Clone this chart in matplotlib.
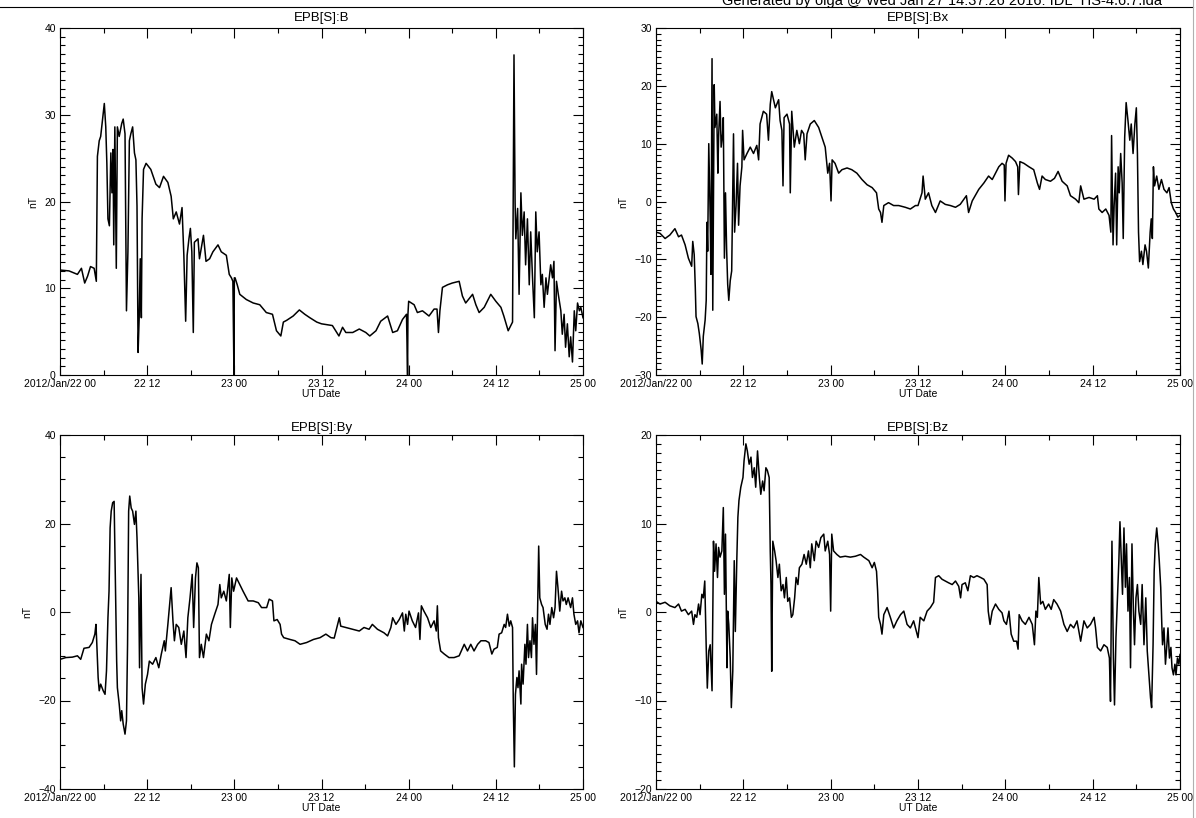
import matplotlib
matplotlib.use("Agg")
from matplotlib import pyplot as plt
from matplotlib.ticker import MultipleLocator, FixedFormatter, FixedLocator
from matplotlib.lines import Line2D

plt.rcParams['font.family'] = ['Liberation Sans', 'DejaVu Sans']

# time axis in hours from 2012/Jan/22 00 UT
tick_hours = [0, 12, 24, 36, 48, 60, 72]
tick_labels = ["2012/Jan/22 00", "22 12", "23 00", "23 12", "24 00", "24 12", "25 00"]

b_t = [0.0, 1.24, 2.4, 2.95, 3.4, 3.8, 4.2, 4.7, 5.0, 5.15, 5.4, 5.6, 5.85, 6.1, 6.3, 6.45, 6.6, 6.8,
       7.0, 7.15, 7.3, 7.4, 7.55, 7.75, 7.9, 8.15, 8.5, 8.7, 8.95, 9.15, 9.35, 9.55, 9.75, 10.0, 10.25,
       10.45, 10.6, 10.75, 10.9, 11.05, 11.2, 11.3, 11.5, 11.85, 12.5, 13.2, 13.7, 14.25, 14.85, 15.3,
       15.6, 16.0, 16.45, 16.8, 17.05, 17.3, 17.5, 17.75, 17.95, 18.15, 18.35, 18.5, 19.0, 19.2, 19.75,
       20.1, 20.6, 21.05, 21.75, 22.2, 22.9, 23.3, 23.6, 23.8, 23.95, 24.0, 24.1, 24.4, 24.75, 25.65,
       26.6, 27.5, 28.4, 29.25, 29.8, 30.4, 30.75, 31.2, 32.1, 32.95, 33.7, 34.4, 35.35, 36.0, 37.5,
       38.4, 38.9, 39.35, 40.3, 41.2, 42.1, 42.65, 43.5, 44.15, 45.1, 45.8, 46.45, 47.15, 47.7, 47.85,
       47.9, 48.0, 48.75, 49.2, 49.9, 50.8, 51.5, 51.9, 52.1, 52.3, 52.65, 53.35, 54.0, 54.95, 55.4,
       55.85, 56.8, 57.25, 57.7, 58.4, 59.3, 60.0, 60.7, 61.1, 61.7, 62.3, 62.5, 62.65, 62.75, 63.0,
       63.2, 63.45, 63.65, 63.9, 64.1, 64.35, 64.6, 64.8, 65.05, 65.3, 65.5, 65.7, 65.95, 66.2, 66.4,
       66.65, 66.9, 67.1, 67.55, 67.8, 68.0, 68.15, 68.35, 68.6, 68.95, 69.15, 69.4, 69.6, 69.85, 70.1,
       70.3, 70.55, 70.8, 71.0, 71.25, 71.5, 71.7, 72.0]
b_v = [12.1, 12.0, 11.6, 12.3, 10.6, 11.4, 12.5, 12.3, 10.8, 25.2, 27.0, 27.5, 29.4, 31.3, 28.6, 24.4,
       18.0, 17.2, 25.6, 21.0, 26.0, 15.0, 28.6, 12.3, 28.6, 27.5, 29.0, 29.5, 27.8, 7.4, 14.2, 27.0,
       27.8, 28.6, 25.6, 24.8, 19.5, 2.6, 6.6, 13.4, 6.6, 18.0, 23.7, 24.4, 23.7, 22.0, 21.6, 22.9, 22.2,
       20.6, 18.0, 18.8, 17.4, 19.3, 13.8, 6.2, 13.8, 15.7, 16.9, 14.2, 4.9, 15.3, 15.7, 13.4, 16.1, 13.1,
       13.4, 14.2, 15.0, 14.2, 13.8, 11.6, 11.2, 10.8, 0.0, 11.2, 11.2, 10.4, 9.3, 8.7, 8.3, 8.1, 7.2,
       7.0, 5.1, 4.5, 6.1, 6.3, 6.8, 7.5, 7.0, 6.6, 6.1, 5.9, 5.7, 4.5, 5.5, 4.9, 4.9, 5.3, 4.9, 4.5, 5.1,
       6.2, 6.8, 4.9, 5.1, 6.4, 7.0, 0.0, 7.0, 8.5, 8.1, 7.2, 7.4, 6.8, 7.6, 7.6, 4.9, 7.4, 10.1, 10.4,
       10.6, 10.8, 9.1, 8.3, 9.3, 8.1, 7.2, 7.8, 9.3, 8.5, 7.8, 6.8, 5.1, 6.1, 36.9, 19.9, 15.7, 19.2,
       9.3, 21.0, 16.1, 18.8, 12.7, 18.0, 10.4, 16.5, 11.2, 6.6, 18.8, 14.2, 16.5, 10.4, 11.6, 7.8, 11.2,
       9.3, 12.7, 11.2, 13.1, 2.8, 10.8, 9.3, 7.4, 4.7, 7.0, 3.2, 5.9, 2.1, 4.4, 1.5, 7.4, 5.1, 8.3, 7.4,
       7.8, 6.6]

bx_t = [0.0, 0.55, 1.25, 1.9, 2.6, 3.1, 3.5, 4.0, 4.45, 4.9, 5.05, 5.25, 5.4, 5.5, 5.75, 5.95, 6.2,
        6.35, 6.5, 6.75, 6.9, 7.0, 7.1, 7.25, 7.45, 7.55, 7.7, 7.8, 8.0, 8.1, 8.35, 8.5, 8.6, 8.8, 8.95,
        9.15, 9.25, 9.4, 9.55, 9.7, 9.85, 10.0, 10.2, 10.4, 10.65, 10.8, 11.0, 11.2, 11.35, 11.55, 11.8,
        11.9, 12.1, 12.5, 12.95, 13.4, 13.85, 14.1, 14.3, 14.75, 15.2, 15.45, 15.7, 15.9, 16.4, 16.85,
        17.05, 17.3, 17.45, 17.6, 18.0, 18.35, 18.45, 18.65, 19.0, 19.35, 19.7, 20.0, 20.3, 20.5, 20.75,
        21.2, 21.75, 22.35, 22.8, 23.25, 23.6, 23.85, 24.05, 24.2, 24.6, 25.1, 25.55, 26.25, 26.9, 27.6,
        28.3, 29.0, 29.7, 30.3, 30.6, 30.85, 31.05, 31.3, 31.95, 32.65, 33.35, 34.25, 34.95, 35.65,
        36.0, 36.55, 36.7, 37.0, 37.45, 37.9, 38.4, 39.05, 39.75, 40.45, 41.15, 41.8, 42.65, 42.95,
        43.45, 44.35, 45.05, 45.7, 46.2, 46.65, 47.1, 47.55, 47.85, 47.95, 48.1, 48.45, 48.95, 49.4,
        49.7, 49.8, 50.0, 50.55, 51.25, 51.9, 52.4, 52.7, 53.05, 53.5, 54.2, 54.75, 55.25, 55.8, 56.5,
        56.95, 57.65, 58.1, 58.35, 58.8, 59.5, 60.2, 60.65, 60.85, 61.3, 61.8, 62.25, 62.5, 62.6, 62.8,
        62.95, 63.15, 63.3, 63.5, 63.65, 63.85, 64.05, 64.2, 64.4, 64.6, 64.85, 65.1, 65.3, 65.55, 65.8,
        66.0, 66.15, 66.3, 66.45, 66.7, 66.9, 67.2, 67.4, 67.65, 67.9, 68.05, 68.2, 68.35, 68.5, 68.8,
        69.1, 69.45, 69.8, 70.2, 70.5, 70.8, 71.1, 71.4, 71.7, 72.0]
bx_v = [-5.3, -5.5, -6.4, -5.8, -4.7, -6.1, -5.8, -7.5, -9.8, -11.2, -6.9, -9.2, -14.9, -19.9, -21.1,
        -22.8, -25.6, -28.1, -23.3, -20.5, -17.1, -3.6, -8.6, 10.0, -3.0, -12.6, 24.7, -18.8, 20.2,
        12.8, 15.1, 4.9, 11.1, 17.3, 9.4, 11.7, 14.5, -9.8, 1.5, -8.1, -14.3, -17.1, -13.7, -12.0, 11.7,
        -5.3, -0.7, 6.6, -4.1, 2.7, 6.0, 12.3, 7.2, 8.3, 9.4, 8.3, 9.7, 7.2, 13.4, 15.6, 15.1, 10.6,
        16.8, 19.0, 16.2, 17.6, 14.0, 12.3, 2.7, 14.5, 15.1, 13.4, 1.5, 15.6, 9.4, 12.3, 10.0, 12.3,
        11.7, 7.2, 11.7, 13.4, 14.0, 12.8, 11.1, 9.4, 4.9, 6.6, 0.1, 7.2, 6.6, 4.9, 5.5, 5.8, 5.5, 4.9,
        3.8, 2.9, 2.4, 1.5, -1.3, -1.9, -3.6, -0.7, -0.2, -0.7, -0.7, -1.0, -1.3, -0.7, -0.7, 1.5, 4.4,
        0.4, 1.5, -0.7, -1.9, 0.1, -0.5, -0.7, -1.0, -0.5, 1.0, -1.9, 0.1, 2.1, 3.2, 4.4, 3.8, 4.9, 6.0,
        6.6, 6.3, 0.1, 6.6, 8.0, 7.5, 6.9, 6.0, 1.2, 6.9, 6.6, 6.0, 5.5, 3.2, 2.1, 4.4, 3.8, 3.5, 4.0,
        5.2, 3.5, 2.7, 1.0, 0.4, -0.2, 2.7, 0.4, 0.7, 0.4, 1.0, -1.3, -1.9, -1.3, -2.4, -5.3, 11.4, -7.5,
        -0.7, 4.9, -7.5, 6.0, 1.5, 8.3, 3.2, -6.4, 11.1, 17.1, 14.0, 10.6, 13.4, 8.3, 13.4, 16.2, 8.3,
        -5.3, -10.4, -8.6, -10.9, -7.5, -8.6, -11.5, -5.3, -3.0, -6.4, 6.0, 2.7, 4.4, 2.1, 3.8, 2.1, 1.5,
        2.4, -0.2, -1.3, -1.9, -2.7, -2.4]

by_t = [0.0, 0.8, 1.7, 2.4, 2.85, 3.3, 4.0, 4.45, 4.8, 4.95, 5.05, 5.25, 5.4, 5.6, 5.95, 6.2, 6.4, 6.6,
        6.75, 6.9, 7.05, 7.25, 7.45, 7.6, 7.8, 7.9, 8.15, 8.35, 8.5, 8.7, 8.95, 9.15, 9.3, 9.45, 9.6,
        9.8, 10.0, 10.25, 10.45, 10.6, 10.85, 10.95, 11.15, 11.3, 11.5, 11.75, 12.05, 12.3, 12.75, 13.2,
        13.6, 13.95, 14.35, 14.5, 14.85, 15.05, 15.3, 15.55, 15.75, 16.0, 16.35, 16.7, 17.05, 17.35,
        17.6, 17.9, 18.2, 18.4, 18.65, 18.85, 19.05, 19.2, 19.45, 19.75, 20.15, 20.5, 20.85, 21.3,
        21.75, 22.0, 22.2, 22.55, 22.9, 23.3, 23.45, 23.65, 23.9, 24.3, 24.75, 25.2, 25.9, 26.6, 27.3,
        27.75, 28.45, 28.8, 29.25, 29.45, 29.9, 30.3, 30.5, 30.8, 31.65, 32.35, 33.05, 33.95, 34.9,
        35.8, 36.6, 37.3, 37.75, 38.05, 38.45, 38.65, 39.35, 40.25, 41.2, 41.85, 42.55, 43.0, 43.7,
        44.6, 45.1, 45.55, 45.8, 46.25, 46.7, 47.15, 47.4, 47.6, 47.85, 48.05, 48.5, 48.95, 49.35,
        49.55, 49.75, 50.1, 50.6, 51.05, 51.5, 51.8, 51.95, 52.1, 52.4, 52.9, 53.55, 54.25, 54.95,
        55.65, 56.1, 56.55, 57.0, 57.5, 57.95, 58.6, 59.05, 59.45, 59.75, 60.2, 60.45, 60.8, 61.15,
        61.35, 61.6, 61.85, 62.05, 62.3, 62.4, 62.55, 62.7, 62.9, 63.05, 63.2, 63.45, 63.55, 63.75, 64.0,
        64.15, 64.35, 64.5, 64.7, 64.9, 65.05, 65.25, 65.45, 65.6, 65.75, 65.9, 66.05, 66.3, 66.5, 66.8,
        67.05, 67.25, 67.45, 67.7, 67.95, 68.15, 68.35, 68.55, 68.8, 69.05, 69.25, 69.5, 69.7, 69.95,
        70.3, 70.55, 70.75, 71.0, 71.25, 71.45, 71.7, 72.0]
by_v = [-10.7, -10.3, -10.2, -9.9, -10.7, -8.2, -8.0, -6.9, -5.0, -2.8, -6.5, -14.8, -17.8, -16.3,
        -17.8, -18.6, -13.3, -1.3, 4.7, 19.0, 22.8, 24.7, 25.0, 10.0, -11.1, -17.1, -20.8, -24.6, -22.3,
        -25.3, -27.6, -24.6, -7.3, 22.8, 26.2, 23.5, 22.8, 19.8, 22.8, 16.8, 3.2, -12.6, 8.5, -17.1,
        -20.8, -16.3, -14.1, -11.1, -11.8, -10.3, -12.6, -9.5, -6.5, -8.8, -2.8, 1.0, 5.5, -2.0, -6.5,
        -2.8, -3.5, -7.3, -4.3, -10.3, -1.3, 3.2, 8.5, -3.5, 7.7, 11.1, 10.0, -10.3, -7.3, -10.3, -5.0,
        -6.5, -2.8, -0.5, 1.7, 6.2, 3.2, 4.7, 2.5, 8.5, -3.5, 7.7, 4.7, 7.7, 6.2, 4.7, 2.5, 2.5, 2.1,
        1.0, 1.0, 2.9, 2.5, -2.0, -1.7, -2.8, -5.0, -5.8, -6.2, -6.5, -7.3, -6.9, -6.2, -5.8, -5.0, -5.8,
        -5.9, -3.9, -1.3, -3.2, -3.5, -3.9, -4.3, -3.5, -3.9, -2.8, -3.9, -4.7, -5.4, -3.5, -1.3, -2.8,
        -1.7, -0.2, -4.3, -0.5, -2.8, 0.2, -2.0, -3.5, -0.2, -6.2, 1.4, 0.2, -1.3, -3.5, -2.0, -4.3, 1.4,
        -5.8, -8.8, -9.5, -10.3, -10.3, -9.9, -7.3, -8.8, -7.3, -8.8, -7.3, -6.5, -6.5, -6.9, -9.5, -8.4,
        -8.0, -5.0, -4.7, -2.8, -3.5, -0.5, -3.2, -2.0, -3.5, -20.1, -35.0, -18.6, -14.8, -17.1, -13.3,
        -20.8, -11.8, -16.3, -7.3, -11.8, -2.8, -10.3, -6.5, -10.3, -1.3, -7.3, -2.8, -14.1, 1.0, 14.9,
        3.2, 1.7, 1.0, -2.8, -3.9, -0.5, -2.8, 1.0, -1.3, 1.0, 9.2, 5.5, 0.2, 4.7, 2.5, 3.2, 1.7, 3.2, 1.0,
        3.2, -0.5, -2.8, -2.0, -4.7, -2.0, -3.5]

bz_t = [0.0, 0.55, 1.25, 1.9, 2.6, 3.1, 3.5, 4.0, 4.45, 4.9, 5.15, 5.35, 5.6, 5.85, 6.05, 6.3, 6.5,
        6.7, 6.9, 7.05, 7.25, 7.45, 7.55, 7.7, 7.9, 8.05, 8.25, 8.45, 8.6, 8.8, 9.05, 9.25, 9.4, 9.55,
        9.75, 9.85, 10.0, 10.2, 10.35, 10.55, 10.75, 10.9, 11.1, 11.25, 11.4, 11.65, 11.95, 12.1, 12.35,
        12.55, 12.8, 13.05, 13.25, 13.5, 13.7, 13.95, 14.2, 14.4, 14.65, 14.85, 15.1, 15.3, 15.55, 15.7,
        15.8, 15.9, 16.05, 16.3, 16.5, 16.75, 16.95, 17.2, 17.45, 17.65, 17.9, 18.1, 18.35, 18.6, 18.8,
        19.05, 19.25, 19.5, 19.7, 20.05, 20.35, 20.65, 20.95, 21.2, 21.4, 21.75, 22.0, 22.35, 22.65,
        23.05, 23.25, 23.6, 23.85, 24.0, 24.15, 24.4, 24.85, 25.3, 26.0, 26.7, 27.4, 28.1, 28.55, 29.25,
        29.7, 30.0, 30.3, 30.45, 30.6, 30.85, 31.05, 31.3, 31.75, 32.2, 32.65, 33.1, 33.6, 34.05, 34.5,
        34.95, 35.4, 36.0, 36.3, 36.8, 37.25, 37.7, 38.15, 38.4, 38.85, 39.3, 39.75, 40.2, 40.7, 41.15,
        41.6, 41.85, 42.05, 42.5, 42.85, 43.2, 43.65, 44.1, 44.6, 45.05, 45.5, 45.65, 45.9, 46.2, 46.65,
        47.1, 47.55, 47.8, 48.15, 48.5, 48.8, 49.15, 49.55, 49.75, 49.9, 50.3, 50.75, 51.25, 51.7, 52.0,
        52.2, 52.4, 52.6, 52.85, 53.15, 53.5, 53.95, 54.3, 54.65, 55.1, 55.6, 56.05, 56.5, 56.95, 57.4,
        57.85, 58.35, 58.8, 59.25, 59.7, 60.2, 60.4, 60.65, 61.1, 61.55, 62.0, 62.3, 62.45, 62.65, 62.85,
        63.0, 63.2, 63.4, 63.6, 63.75, 63.95, 64.1, 64.3, 64.5, 64.65, 64.85, 65.05, 65.2, 65.4, 65.6,
        65.75, 65.95, 66.15, 66.35, 66.6, 66.8, 67.05, 67.3, 67.5, 67.75, 67.95, 68.1, 68.3, 68.45, 68.6,
        68.8, 69.0, 69.15, 69.35, 69.5, 69.6, 69.8, 70.0, 70.2, 70.35, 70.55, 70.75, 70.9, 71.1, 71.3,
        71.45, 71.65, 71.85, 72.0]
bz_v = [1.2, 0.9, 1.1, 0.7, 0.5, 0.9, 0.1, 0.3, -0.3, 0.1, -1.4, -0.3, -0.6, 0.9, -0.3, 2.0, 1.6, 3.5,
        -4.0, -8.6, -4.4, -3.7, -5.9, -8.9, 8.0, 4.6, 7.7, 3.9, 7.3, 6.2, 6.9, 11.8, 2.0, 8.8, -6.3, 0.1,
        -1.4, -5.2, -10.8, -6.7, 5.8, -2.2, 5.8, 10.7, 12.6, 14.1, 15.2, 17.1, 19.0, 18.2, 16.7, 17.5,
        15.2, 16.3, 14.1, 18.2, 15.2, 13.3, 14.8, 13.7, 16.3, 16.0, 15.2, 6.9, 3.1, -6.7, 8.0, 6.9, 5.8,
        3.9, 5.4, 2.4, 3.1, 1.6, 3.9, 1.2, 1.6, -0.6, -0.3, 1.6, 3.9, 3.1, 5.0, 5.4, 6.5, 5.4, 6.9, 5.0,
        7.7, 5.8, 8.0, 7.3, 8.4, 8.8, 6.9, 8.0, 6.5, 0.1, 8.8, 6.9, 6.5, 6.2, 6.3, 6.2, 6.3, 6.5, 6.2, 5.8,
        5.0, 5.6, 4.6, 2.4, -0.6, -1.4, -2.5, -0.3, 0.5, -0.6, -1.8, -1.0, -0.3, 0.1, -1.4, -1.8, -1.0,
        -2.9, -0.6, -1.0, 0.1, 0.5, 1.1, 3.9, 4.1, 3.7, 3.5, 3.3, 3.1, 3.5, 2.9, 1.6, 3.1, 3.3, 2.4, 4.1,
        3.9, 4.1, 3.9, 3.7, 3.1, 0.1, -1.4, 0.1, 0.9, 0.3, -0.1, -1.0, -1.4, 0.1, -2.5, -3.3, -3.3, -4.2,
        -0.3, -1.0, -1.4, -0.6, -1.4, -3.7, 0.1, -0.6, 3.9, 0.9, 1.2, 0.3, 0.9, 0.3, 1.4, 0.9, 0.1, -1.4,
        -2.2, -1.4, -1.8, -1.0, -3.3, -1.0, -1.8, -1.4, -0.6, -1.8, -4.0, -4.4, -3.7, -4.0, -5.2, -10.1,
        8.0, -5.2, -10.5, -2.9, 1.6, 5.8, 10.2, 5.4, 2.0, 9.5, 2.8, 7.7, 0.1, 3.9, -6.3, 7.7, 0.1, -3.7,
        1.6, 3.1, 0.1, -1.4, 3.1, -3.7, 1.6, -4.4, -7.4, -9.7, -10.8, -3.7, 4.6, 7.7, 9.5, 7.7, 5.8, 2.8,
        -1.4, -3.7, -1.8, -5.9, -3.7, -1.8, -5.2, -4.0, -6.3, -7.1, -5.9, -7.1, -5.2, -5.9, -4.8]

W, H = 1196, 818


def px_rect(left, top, right, bottom):
    return [left / W, 1 - bottom / H, (right - left) / W, (bottom - top) / H]


def panel(rect, t, v, title, ylim, ymajor, yminor, title_pad):
    ax = fig.add_axes(px_rect(*rect))
    ax.plot(t, v, color="black", lw=1.1)
    ax.set_xlim(0, 72)
    ax.set_ylim(*ylim)
    ax.xaxis.set_major_locator(FixedLocator(tick_hours))
    ax.xaxis.set_major_formatter(FixedFormatter(tick_labels))
    ax.xaxis.set_minor_locator(MultipleLocator(6))
    ax.yaxis.set_major_locator(MultipleLocator(ymajor))
    ax.yaxis.set_minor_locator(MultipleLocator(yminor))
    ax.tick_params(which="both", direction="in", top=True, right=True, width=0.8,
                   labelsize=7.5, colors="black")
    ax.tick_params(which="major", length=7)
    ax.tick_params(which="minor", length=3.6)
    ax.tick_params(axis="x", pad=3)
    ax.tick_params(axis="y", pad=3)
    for s in ax.spines.values():
        s.set_linewidth(0.8)
    ax.set_title(title, fontsize=9.5, pad=title_pad)
    ax.set_ylabel("nT", fontsize=7.5, labelpad=4)
    ax.set_xlabel("UT Date", fontsize=7.5, labelpad=0)
    return ax


fig = plt.figure(figsize=(W / 100, H / 100), dpi=100)

panel((60, 28, 583, 375), b_t, b_v, "EPB[S]:B", (0, 40), 10, 1, 5)
panel((656, 28, 1180, 375), bx_t, bx_v, "EPB[S]:Bx", (-30, 30), 10, 1, 5)
panel((60, 435, 583, 789), by_t, by_v, "EPB[S]:By", (-40, 40), 20, 5, 3)
panel((656, 435, 1180, 789), bz_t, bz_v, "EPB[S]:Bz", (-20, 20), 10, 1, 3)

# header rule and run stamp
fig.add_artist(Line2D([0, 1193 / W], [1 - 7 / H, 1 - 7 / H], color="black", lw=0.8))
fig.add_artist(Line2D([1193 / W, 1193 / W], [0, 1], color="#b0b0b0", lw=0.8))
fig.text(1162 / W, 1 - 5 / H, "Generated by olga @ Wed Jan 27 14:37:26 2016: IDL_HS-4.6.7.ida",
         ha="right", va="baseline", fontsize=10.5)

fig.savefig("out.png", dpi=100)
